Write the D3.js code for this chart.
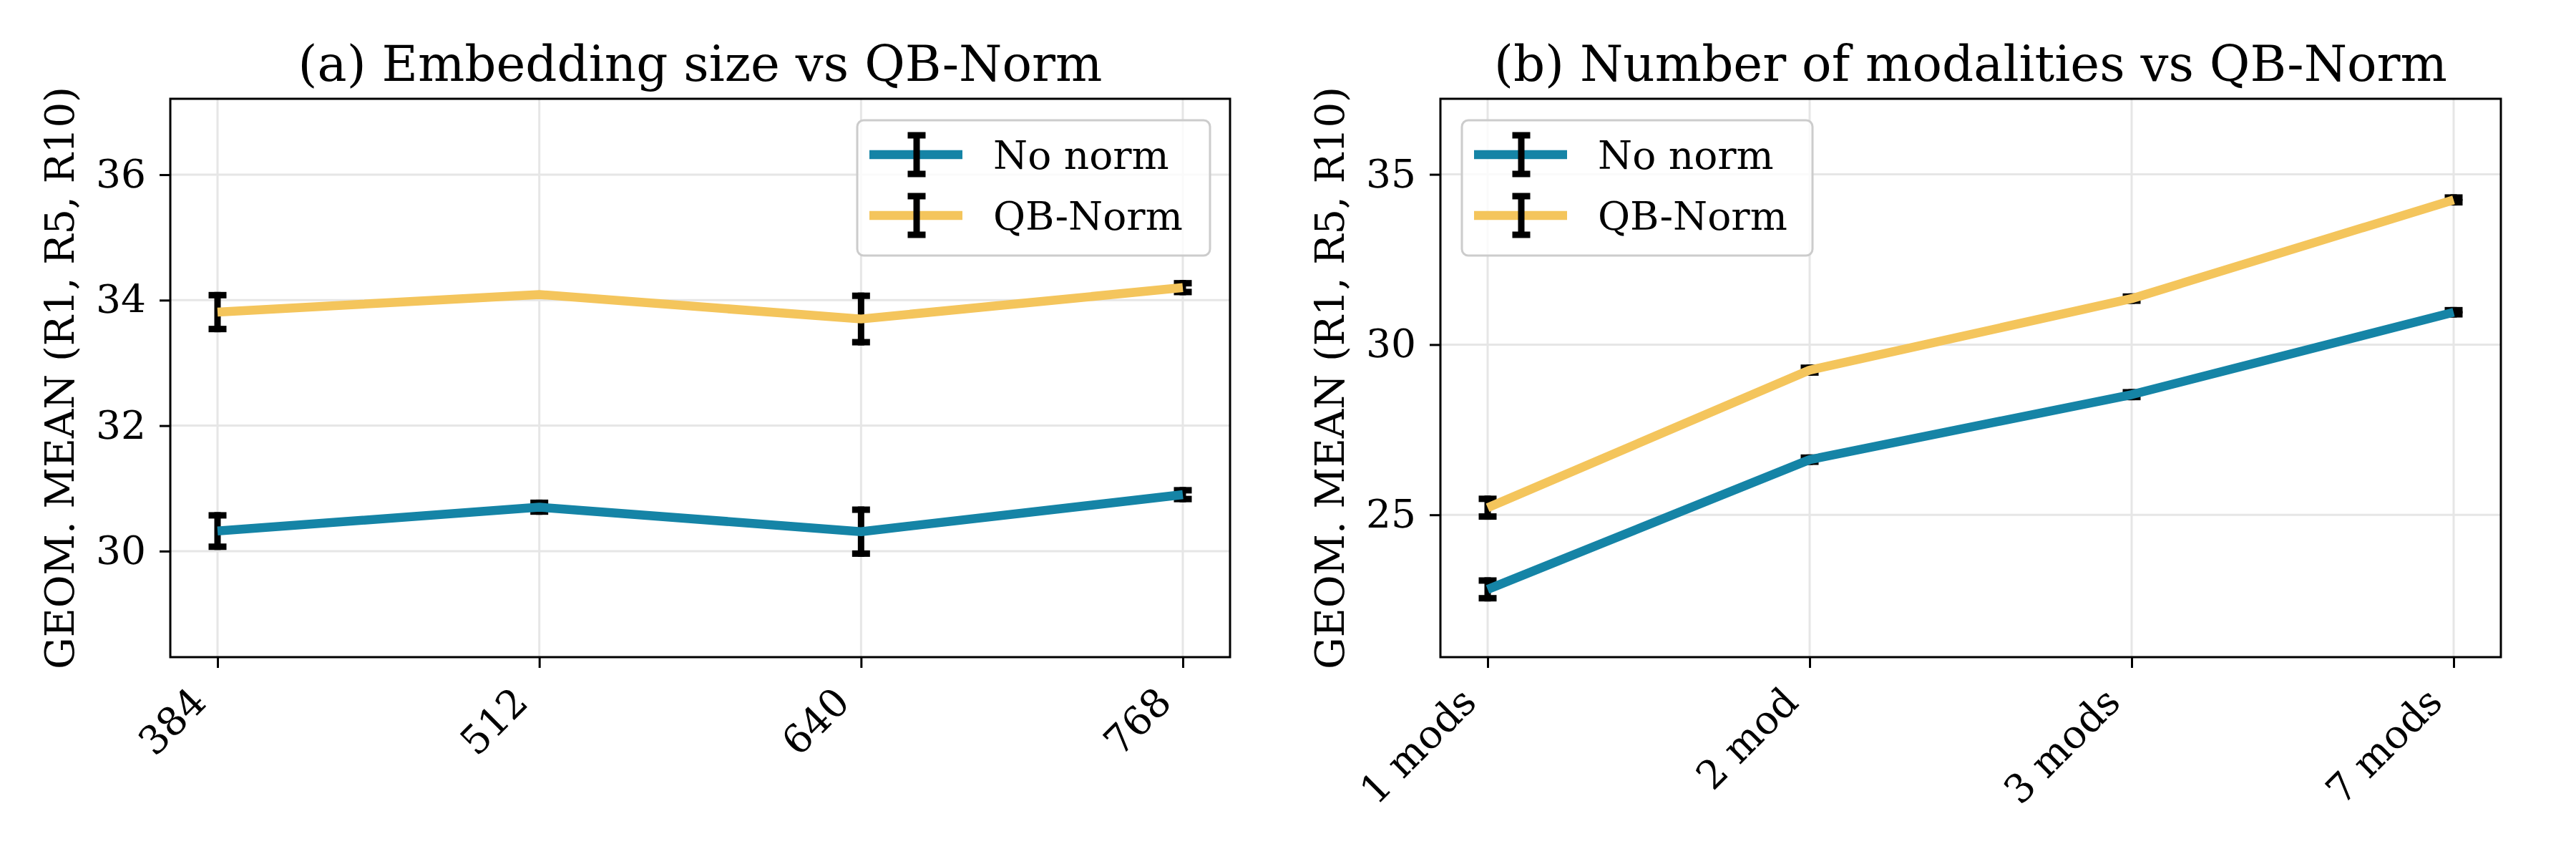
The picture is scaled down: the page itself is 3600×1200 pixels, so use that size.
<!DOCTYPE html>
<html>
<head>
<meta charset="utf-8">
<script src="https://cdn.jsdelivr.net/npm/d3@7"></script>
<style>
  body { margin: 0; background: #fff; }
  text { font-family: "DejaVu Serif", serif; fill: #000; }
</style>
</head>
<body>
<div id="chart"></div>
<script>
// panel (a)
const sizeLabels = ["384", "512", "640", "768"];
const sizeNoNorm = [30.32, 30.70, 30.31, 30.90];
const sizeNoNormErr = [0.25, 0.07, 0.35, 0.07];
const sizeQbNorm = [33.81, 34.09, 33.70, 34.20];
const sizeQbNormErr = [0.27, 0, 0.37, 0.07];
const sizeTicks = [30, 32, 34, 36];

// panel (b)
const modLabels = ["1 mods", "2 mod", "3 mods", "7 mods"];
const modNoNorm = [22.81, 26.62, 28.53, 30.95];
const modNoNormErr = [0.26, 0.06, 0.07, 0.06];
const modQbNorm = [25.21, 29.25, 31.35, 34.25];
const modQbNormErr = [0.26, 0.07, 0.06, 0.07];
const modTicks = [25, 30, 35];

const seriesNames = ["No norm", "QB-Norm"];
const colors = ["#1584a6", "#f4c55c"];

const W = 3600, H = 1200;
const plotTop = 138, plotBottom = 918;

const svg = d3.select("#chart").append("svg")
    .attr("width", W)
    .attr("height", H);

function drawPanel(opt) {
    const g = svg.append("g");
    const x = d3.scalePoint()
        .domain(opt.labels)
        .range([opt.left + 66, opt.right - 66]);
    const y = d3.scaleLinear()
        .domain(opt.yDomain)
        .range([plotBottom, plotTop]);

    // grid
    g.selectAll(".vgrid").data(opt.labels).enter().append("line")
        .attr("x1", d => x(d)).attr("x2", d => x(d))
        .attr("y1", plotTop).attr("y2", plotBottom)
        .style("stroke", "#e6e6e6").style("stroke-width", 3);
    g.selectAll(".hgrid").data(opt.ticks).enter().append("line")
        .attr("x1", opt.left).attr("x2", opt.right)
        .attr("y1", d => y(d)).attr("y2", d => y(d))
        .style("stroke", "#e6e6e6").style("stroke-width", 3);

    // series: error bars under the line
    const series = [
        {vals: opt.noNorm, err: opt.noNormErr, color: colors[0]},
        {vals: opt.qbNorm, err: opt.qbNormErr, color: colors[1]}
    ];
    series.forEach(s => {
        const pts = opt.labels.map((l, i) => ({l: l, v: s.vals[i], e: s.err[i]}));
        const bars = pts.filter(p => p.e > 0);
        g.selectAll(null).data(bars).enter().append("line")
            .attr("x1", d => x(d.l)).attr("x2", d => x(d.l))
            .attr("y1", d => y(d.v - d.e) + 4.5).attr("y2", d => y(d.v + d.e) - 4.5)
            .style("stroke", "#000").style("stroke-width", 9);
        [-1, 1].forEach(sign => {
            g.selectAll(null).data(bars).enter().append("line")
                .attr("x1", d => x(d.l) - 12.5).attr("x2", d => x(d.l) + 12.5)
                .attr("y1", d => y(d.v + sign * d.e)).attr("y2", d => y(d.v + sign * d.e))
                .style("stroke", "#000").style("stroke-width", 9);
        });
        g.append("path")
            .datum(pts)
            .attr("d", d3.line().x(d => x(d.l)).y(d => y(d.v)))
            .style("fill", "none")
            .style("stroke", s.color)
            .style("stroke-width", 12.5)
            .style("stroke-linejoin", "round");
    });

    // frame
    g.append("rect")
        .attr("x", opt.left).attr("y", plotTop)
        .attr("width", opt.right - opt.left).attr("height", plotBottom - plotTop)
        .style("fill", "none").style("stroke", "#000").style("stroke-width", 3);

    // y axis
    const yAxis = g.append("g")
        .attr("transform", `translate(${opt.left},0)`)
        .call(d3.axisLeft(y).tickValues(opt.ticks).tickSize(15).tickPadding(19).tickFormat(d3.format("d")));
    yAxis.select(".domain").remove();
    yAxis.selectAll(".tick line").style("stroke", "#000").style("stroke-width", 3);
    yAxis.selectAll(".tick text")
        .style("font-family", "DejaVu Serif").style("font-size", "55px");

    // x axis
    const xAxis = g.append("g")
        .attr("transform", `translate(0,${plotBottom})`)
        .call(d3.axisBottom(x).tickSize(15).tickFormat(""));
    xAxis.select(".domain").remove();
    xAxis.selectAll(".tick line").style("stroke", "#000").style("stroke-width", 3);
    g.selectAll(".xlab").data(opt.labels).enter().append("text")
        .attr("transform", d => `translate(${x(d) - 13},${plotBottom + 66}) rotate(-45)`)
        .attr("text-anchor", "end")
        .style("font-size", "55px")
        .text(d => d);

    // title
    g.append("text")
        .attr("x", (opt.left + opt.right) / 2)
        .attr("y", 113)
        .attr("text-anchor", "middle")
        .style("font-size", "69px")
        .text(opt.title);

    // y label
    g.append("text")
        .attr("transform", `translate(${opt.left - 135},${(plotTop + plotBottom) / 2}) rotate(-90)`)
        .attr("text-anchor", "middle")
        .style("font-size", "56px")
        .text("GEOM. MEAN (R1, R5, R10)");

    // legend
    const lg = g.append("g").attr("transform", `translate(${opt.legendX},168)`);
    lg.append("rect")
        .attr("width", opt.legendW).attr("height", 189)
        .attr("rx", 9)
        .style("fill", "#fff").style("fill-opacity", 0.8)
        .style("stroke", "#cccccc").style("stroke-width", 3);
    seriesNames.forEach((name, i) => {
        const cy = 48 + i * 85;
        lg.append("line")
            .attr("x1", 17).attr("x2", 147)
            .attr("y1", cy).attr("y2", cy)
            .style("stroke", colors[i]).style("stroke-width", 12.5);
        lg.append("line")
            .attr("x1", 83).attr("x2", 83)
            .attr("y1", cy - 31).attr("y2", cy + 31)
            .style("stroke", "#000").style("stroke-width", 9);
        [-1, 1].forEach(sign => {
            lg.append("line")
                .attr("x1", 70.5).attr("x2", 95.5)
                .attr("y1", cy + sign * 27).attr("y2", cy + sign * 27)
                .style("stroke", "#000").style("stroke-width", 9);
        });
        lg.append("text")
            .attr("x", 190).attr("y", cy + 20)
            .style("font-size", "55px")
            .text(name);
    });
}

drawPanel({
    left: 238, right: 1719,
    labels: sizeLabels,
    noNorm: sizeNoNorm, noNormErr: sizeNoNormErr,
    qbNorm: sizeQbNorm, qbNormErr: sizeQbNormErr,
    yDomain: [28.31, 37.21], ticks: sizeTicks,
    title: "(a) Embedding size vs QB-Norm",
    legendX: 1198, legendW: 493
});

drawPanel({
    left: 2013, right: 3495,
    labels: modLabels,
    noNorm: modNoNorm, noNormErr: modNoNormErr,
    qbNorm: modQbNorm, qbNormErr: modQbNormErr,
    yDomain: [20.82, 37.22], ticks: modTicks,
    title: "(b) Number of modalities vs QB-Norm",
    legendX: 2043, legendW: 490
});
</script>
</body>
</html>
